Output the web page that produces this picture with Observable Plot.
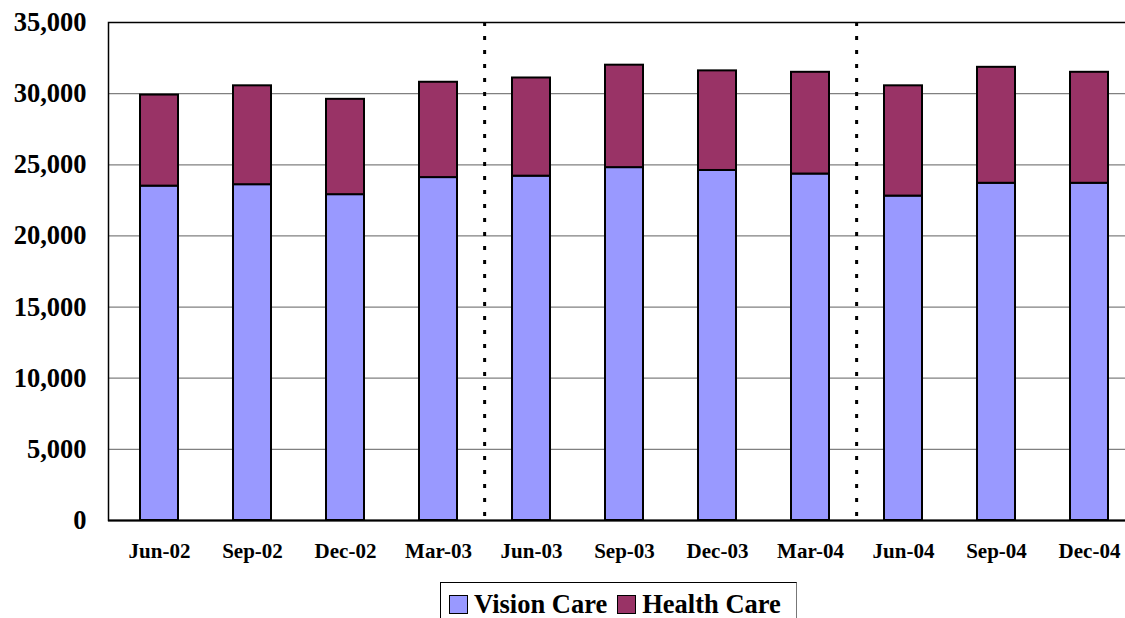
<!DOCTYPE html>
<html>
<head>
<meta charset="utf-8">
<script src="https://cdn.jsdelivr.net/npm/d3@7"></script>
<script src="https://cdn.jsdelivr.net/npm/@observablehq/plot@0.6"></script>
<style>
  html, body { margin: 0; padding: 0; background: #fff; overflow: hidden; width: 1125px; height: 618px; }
  #wrap { position: relative; width: 1125px; height: 618px; overflow: hidden; }
  #chart svg { max-width: none !important; }
  #legend {
    position: absolute; left: 440px; top: 582px; width: 357px; height: 50px;
    border-top: 1.5px solid #000; border-left: 1.5px solid #000; border-right: 1.5px solid #777;
    font-family: "Liberation Serif", "Times New Roman", serif; font-weight: bold; font-size: 26.5px;
    display: flex; align-items: flex-start; padding-left: 8px; box-sizing: border-box; padding-top: 6px;
    white-space: nowrap;
  }
  .item { display: flex; align-items: center; margin-right: 10px; line-height: 30px; flex-shrink: 0; white-space: nowrap; }
  .sw { width: 17px; height: 17px; border: 1.5px solid #000; margin-right: 6px; flex-shrink: 0; }
</style>
</head>
<body>
<div id="wrap"><div id="chart"></div><div id="legend"></div></div>
<script>
const categories = ["Jun-02","Sep-02","Dec-02","Mar-03","Jun-03","Sep-03","Dec-03","Mar-04","Jun-04","Sep-04","Dec-04"];
const visionCare = [23500, 23600, 22900, 24100, 24200, 24800, 24600, 24350, 22800, 23700, 23700];
const healthCare = [6400, 6950, 6700, 6700, 6900, 7200, 7000, 7150, 7750, 8150, 7800];
const seriesNames = ["Vision Care", "Health Care"];
const seriesColors = ["#9999FF", "#993366"];
const yTicks = [0, 5000, 10000, 15000, 20000, 25000, 30000, 35000];
const gridTicks = [5000, 10000, 15000, 20000, 25000, 30000];
const dividerBefore = ["Jun-03", "Jun-04"];

const data = [];
categories.forEach((c, i) => {
  data.push({cat: c, series: seriesNames[0], value: visionCare[i]});
  data.push({cat: c, series: seriesNames[1], value: healthCare[i]});
});

const W = 1140, mL = 108, mR = 1;
const step = (W - mL - mR) / categories.length;
const font = "'Liberation Serif', 'Times New Roman', serif";

const chart = Plot.plot({
  width: W, height: 578,
  marginLeft: mL, marginRight: mR, marginTop: 22, marginBottom: 58,
  style: {fontFamily: font, fontWeight: "bold", background: "#fff", maxWidth: "none"},
  x: {domain: categories, paddingInner: 0.595, paddingOuter: 0.2975, label: null},
  y: {domain: [0, 35000], label: null},
  color: {domain: seriesNames, range: seriesColors},
  marks: [
    Plot.ruleY(gridTicks, {stroke: "#808080", strokeWidth: 1.2}),
    Plot.ruleX(dividerBefore, {x: d => d, dx: -step / 2, stroke: "#000", strokeWidth: 3, strokeDasharray: "4,10"}),
    Plot.barY(data, Plot.stackY({x: "cat", y: "value", fill: "series", stroke: "#000", strokeWidth: 2, order: seriesNames})),
    Plot.frame({stroke: "#000", strokeWidth: 1.5}),
    Plot.ruleY([0], {stroke: "#000", strokeWidth: 2}),
    Plot.axisY(yTicks, {tickSize: 0, tickPadding: 22, fontSize: 26.5, fontWeight: "bold", tickFormat: d3.format(","), label: null}),
    Plot.axisX({tickSize: 0, tickPadding: 23, fontSize: 21, fontWeight: "bold", label: null})
  ]
});
chart.style.maxWidth = "none";
document.getElementById("chart").appendChild(chart);

const legend = document.getElementById("legend");
seriesNames.forEach((n, i) => {
  const item = document.createElement("div");
  item.className = "item";
  const sw = document.createElement("div");
  sw.className = "sw";
  sw.style.background = seriesColors[i];
  const t = document.createElement("span");
  t.textContent = n;
  item.appendChild(sw); item.appendChild(t);
  legend.appendChild(item);
});
</script>
</body>
</html>
